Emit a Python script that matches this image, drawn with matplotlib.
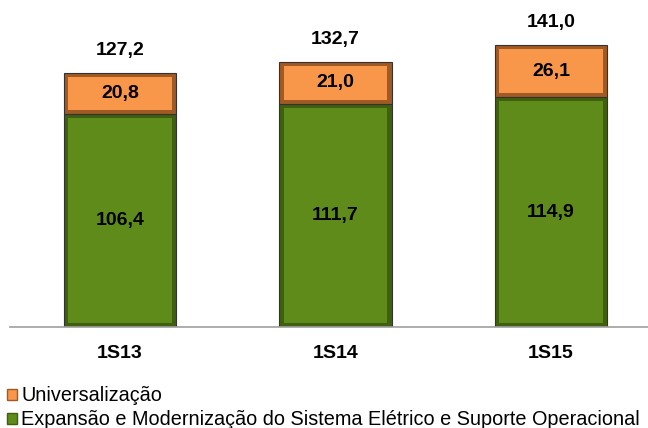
import numpy as np
import matplotlib.pyplot as plt
from matplotlib.patches import Patch

plt.rcParams['font.family'] = ['Liberation Sans', 'DejaVu Sans']

periods = ['1S13', '1S14', '1S15']
expansao = [106.4, 111.7, 114.9]
universal = [20.8, 21.0, 26.1]
totals = [127.2, 132.7, 141.0]

green = '#5F8B1B'
green_dark = '#3F600F'
orange = '#F8964A'
orange_dark = '#A05A24'

lbl = dict(fontweight='bold', fontsize=14)

fig = plt.figure(figsize=(6.48, 4.28), dpi=100)
ax = fig.add_axes([10 / 648, 1 - 327 / 428, 638 / 648, 327 / 428])

x = np.arange(len(periods))
w = 0.52
ix = 0.02   # bevel inset horizontal
iy = 2.0    # bevel inset vertical

# outer bars (dark bevel edges)
ax.bar(x, expansao, w, color=green_dark, edgecolor='#333333', linewidth=0.8)
ax.bar(x, universal, w, bottom=expansao, color=orange_dark, edgecolor='#333333', linewidth=0.8)
# inner faces
ax.bar(x, np.array(expansao) - 2 * iy, w - 2 * ix, bottom=iy, color=green, linewidth=0)
ax.bar(x, np.array(universal) - 2 * iy, w - 2 * ix, bottom=np.array(expansao) + iy,
       color=orange, linewidth=0)

fmt = lambda v: f'{v:.1f}'.replace('.', ',')
for i in range(len(periods)):
    ax.text(x[i], expansao[i] / 2, fmt(expansao[i]), ha='center', va='center', **lbl)
    ax.text(x[i], expansao[i] + universal[i] / 2, fmt(universal[i]), ha='center',
            va='center', **lbl)
    ax.text(x[i], totals[i] + 11, fmt(totals[i]), ha='center', va='center', **lbl)

ax.set_xlim(-0.51, 2.45)
ax.set_ylim(0, 163.5)
for s in ['top', 'right', 'left']:
    ax.spines[s].set_visible(False)
ax.spines['bottom'].set_color('#A0A0A0')
ax.spines['bottom'].set_linewidth(1.2)
ax.set_yticks([])
ax.set_xticks(x)
ax.set_xticklabels(periods, **lbl)
ax.tick_params(axis='x', length=0, pad=13)

handles = [Patch(facecolor=orange, edgecolor=orange_dark),
           Patch(facecolor=green, edgecolor=green_dark)]
labels = ['Universalização',
          'Expansão e Modernização do Sistema Elétrico e Suporte Operacional']
fig.legend(handles, labels, loc='upper left', bbox_to_anchor=(0.011, 0.097),
           fontsize=14.3, frameon=False, handlelength=0.5, handleheight=0.5,
           handletextpad=0.2, labelspacing=0.25, borderpad=0, borderaxespad=0)

fig.savefig('out.png', dpi=100)
